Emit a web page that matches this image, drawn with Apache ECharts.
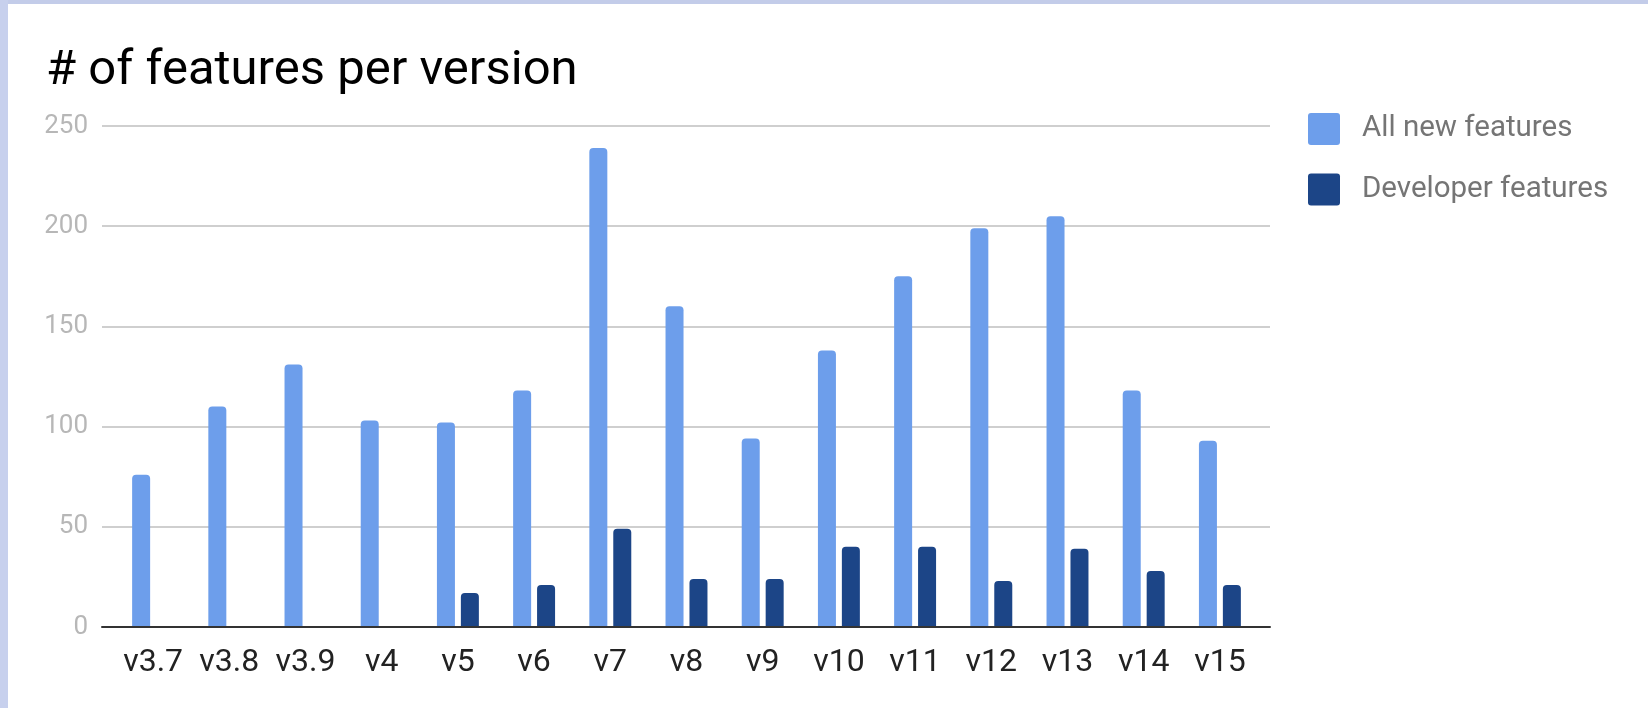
<!DOCTYPE html>
<html>
<head>
<meta charset="utf-8">
<script src="https://cdn.jsdelivr.net/npm/echarts@6/dist/echarts.min.js"></script>
<style>
html,body{margin:0;padding:0;background:#fff;}
#chart{width:1648px;height:708px;}
</style>
</head>
<body>
<div id="chart"></div>
<script>
const categories = ['v3.7','v3.8','v3.9','v4','v5','v6','v7','v8','v9','v10','v11','v12','v13','v14','v15'];
const allNewFeatures = [76,110,131,103,102,118,239,160,94,138,175,199,205,118,93];
const developerFeatures = [0,0,0,0,17,21,49,24,24,40,40,23,39,28,21];
const yTicks = [0,50,100,150,200,250];

const chart = echarts.init(document.getElementById('chart'), null, {renderer:'canvas'});
const FONT = 'Roboto';
const legendIcon = 'path://M3,0 H29 Q32,0 32,3 V29 Q32,32 29,32 H3 Q0,32 0,29 V3 Q0,0 3,0 Z';

chart.setOption({
  backgroundColor:'#ffffff',
  animation:false,
  graphic:[
    {type:'rect', left:0, top:0, shape:{width:1648, height:4}, style:{fill:'#c3cce9'}, z:100},
    {type:'rect', left:0, top:0, shape:{width:8, height:708}, style:{fill:'#c7d0ed'}, z:100}
  ],
  title:{
    text:'# of features per version',
    left:41, top:42,
    textStyle:{fontFamily:FONT, fontSize:49, fontWeight:'normal', color:'#000000', lineHeight:49}
  },
  legend:{
    orient:'vertical',
    left:1308, top:113,
    padding:0,
    itemWidth:32, itemHeight:32, itemGap:28.5,
    icon:legendIcon,
    textStyle:{fontFamily:FONT, fontSize:29.5, color:'#757575', padding:[0,0,0,17]},
    data:['All new features','Developer features']
  },
  grid:[
    {left:102, right:378, top:126, bottom:81},
    {left:115, right:390, top:126, bottom:81}
  ],
  xAxis:[
    {type:'category', gridIndex:0, data:categories,
     axisLine:{show:true, lineStyle:{color:'#333333', width:2}},
     axisTick:{show:false}, axisLabel:{show:false}, splitLine:{show:false}, z:10},
    {type:'category', gridIndex:1, data:categories,
     axisLine:{show:false}, axisTick:{show:false},
     axisLabel:{fontFamily:FONT, fontSize:32, color:'#222222', margin:20, interval:0}}
  ],
  yAxis:[
    {type:'value', gridIndex:0, min:0, max:250, interval:50,
     axisLine:{show:false}, axisTick:{show:false},
     axisLabel:{fontFamily:FONT, fontSize:26, color:'#b7b7b7', margin:14,
       formatter:function(v){return yTicks.indexOf(v)>=0 ? String(v) : '';}},
     splitLine:{lineStyle:{color:'#cfcfcf', width:2}}},
    {type:'value', gridIndex:1, min:0, max:250, interval:50,
     axisLine:{show:false}, axisTick:{show:false}, axisLabel:{show:false}, splitLine:{show:false}}
  ],
  series:[
    {name:'All new features', type:'bar', xAxisIndex:1, yAxisIndex:1,
     data:allNewFeatures, barWidth:18, barGap:'33%',
     itemStyle:{color:'#6d9eeb', borderRadius:[4,4,0,0]}},
    {name:'Developer features', type:'bar', xAxisIndex:1, yAxisIndex:1,
     data:developerFeatures, barWidth:18, barGap:'33%',
     itemStyle:{color:'#1c4587', borderRadius:[4,4,0,0]}}
  ]
});
</script>
</body>
</html>
